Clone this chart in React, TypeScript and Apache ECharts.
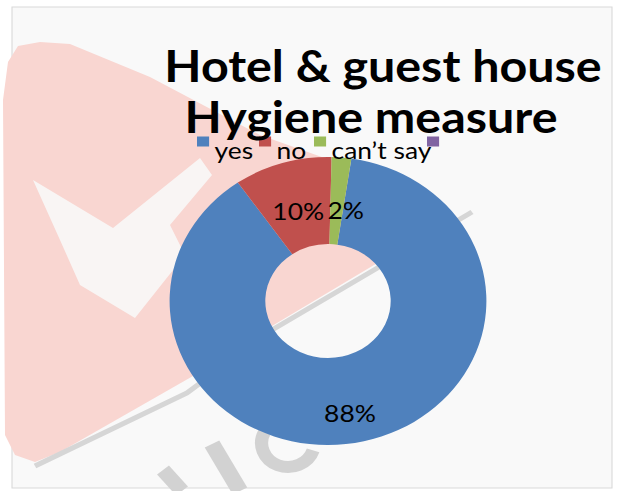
import React, { useEffect, useRef } from "react";
import * as echarts from "echarts";

// ---- data ----
const categories = ["yes", "no", "can’t say", " "];
const values = [88, 10, 2, 0];
const titleLines = ["Hotel & guest house", "Hygiene measure"];

// ---- styling ----
const colors = ["#4f81bd", "#c0504d", "#9bbb59", "#8064a2"];
const SX = 1.1; // the reference picture is stretched horizontally
const W = 624 / SX;
const H = 491;
const px = (x: number) => x / SX; // picture x -> chart x

const legendLefts = [197, 259, 314, 427];
// square marker drawn in the top part of a taller icon box, so that the
// legend text sits lower than the marker, as in the reference
const legendIcon = "path://M0,0L11,0L11,10L0,10ZM0,25.6L0.01,25.6L0.01,25.61L0,25.61Z";
const labelShift: [number, number][] = [
  [-3.5, 11],
  [2.7, 9],
  [7.2, 12],
  [0, 0],
];

const pinkPts = [
  [8, 62], [18, 46], [40, 42], [70, 44], [150, 77], [260, 135], [333, 161],
  [420, 205], [442, 222], [430, 240], [374, 265], [272, 326], [200, 372],
  [60, 452], [35, 462], [15, 455], [5, 435], [3, 100],
].map(([x, y]) => [px(x), y]);

const whitePts = [
  [33, 180], [113, 228], [200, 158], [212, 175], [170, 225], [185, 255],
  [135, 318], [80, 285], [60, 240],
].map(([x, y]) => [px(x), y]);

const shadowPts = [
  [35, 466], [187, 393], [272, 330], [374, 270], [472, 212],
].map(([x, y]) => [px(x), y]);

export default function App() {
  const ref = useRef<HTMLDivElement>(null);
  useEffect(() => {
    if (!ref.current) return;
    const chart = echarts.init(ref.current, null, { renderer: "svg" });
    const option: any = {
      animation: false,
      backgroundColor: "#ffffff",
      title: titleLines.map((t, i) => ({
        text: t,
        left: px(i === 0 ? 383 : 371),
        top: i === 0 ? 45.4 : 96.4,
        textAlign: "center",
        padding: 0,
        textStyle: {
          fontFamily: "Lato",
          fontWeight: "bold",
          fontSize: 44,
          lineHeight: 38,
          color: "#000",
        },
      })),
      legend: categories.map((c, i) => ({
        data: [c],
        left: px(legendLefts[i]),
        top: 136.5,
        padding: 0,
        itemWidth: 11,
        itemHeight: 25.6,
        icon: legendIcon,
        selectedMode: false,
        textStyle: {
          fontFamily: "Lato",
          fontSize: 24,
          lineHeight: 24,
          color: "#000",
        },
      })),
      graphic: [
        {
          type: "rect",
          shape: { x: px(12), y: 7, width: px(612) - px(12), height: 481 },
          style: { fill: "#f9f9f9", stroke: "#d9d9d9", lineWidth: 1 },
          z: -10,
        },
        {
          type: "polygon",
          shape: { points: pinkPts },
          style: { fill: "#f9d6d1" },
          z: -9,
        },
        {
          type: "polygon",
          shape: { points: whitePts },
          style: { fill: "#f9f5f4" },
          z: -8,
        },
        {
          type: "polyline",
          shape: { points: shadowPts },
          style: { stroke: "#d6d6d6", lineWidth: 5, fill: null },
          z: -8,
        },
        {
          type: "line",
          shape: { x1: px(163), y1: 470, x2: px(182), y2: 491 },
          style: { stroke: "#d2d2d2", lineWidth: 14 },
          z: -8,
        },
        {
          type: "line",
          shape: { x1: px(212), y1: 444, x2: px(240), y2: 491 },
          style: { stroke: "#d2d2d2", lineWidth: 15 },
          z: -8,
        },
        {
          type: "arc",
          shape: { cx: px(288), cy: 443, r: 24, startAngle: 0.1 * Math.PI, endAngle: 1.15 * Math.PI, clockwise: true },
          style: { stroke: "#d2d2d2", lineWidth: 12, fill: null },
          z: -8,
        },
      ],
      series: [
        {
          type: "pie",
          center: [px(328), 301],
          radius: [57, 144],
          startAngle: 81.5,
          clockwise: true,
          avoidLabelOverlap: false,
          itemStyle: { borderWidth: 0 },
          emphasis: { disabled: true },
          label: {
            show: true,
            position: "inside",
            formatter: (p: any) => Math.round(p.percent) + "%",
            fontFamily: "Lato",
            fontSize: 24,
            color: "#000",
          },
          labelLine: { show: false },
          labelLayout: (params: any) => {
            const d = labelShift[params.dataIndex] || [0, 0];
            return { dx: d[0], dy: d[1] };
          },
          data: categories.map((c, i) => ({
            name: c,
            value: values[i],
            itemStyle: { color: colors[i] },
            label: { show: values[i] > 0 },
          })),
        },
      ],
    };
    chart.setOption(option);
    return () => chart.dispose();
  }, []);
  return (
    <div
      ref={ref}
      style={{
        position: "fixed",
        left: 0,
        top: 0,
        width: W,
        height: H,
        transform: `scaleX(${SX})`,
        transformOrigin: "0 0",
      }}
    />
  );
}
